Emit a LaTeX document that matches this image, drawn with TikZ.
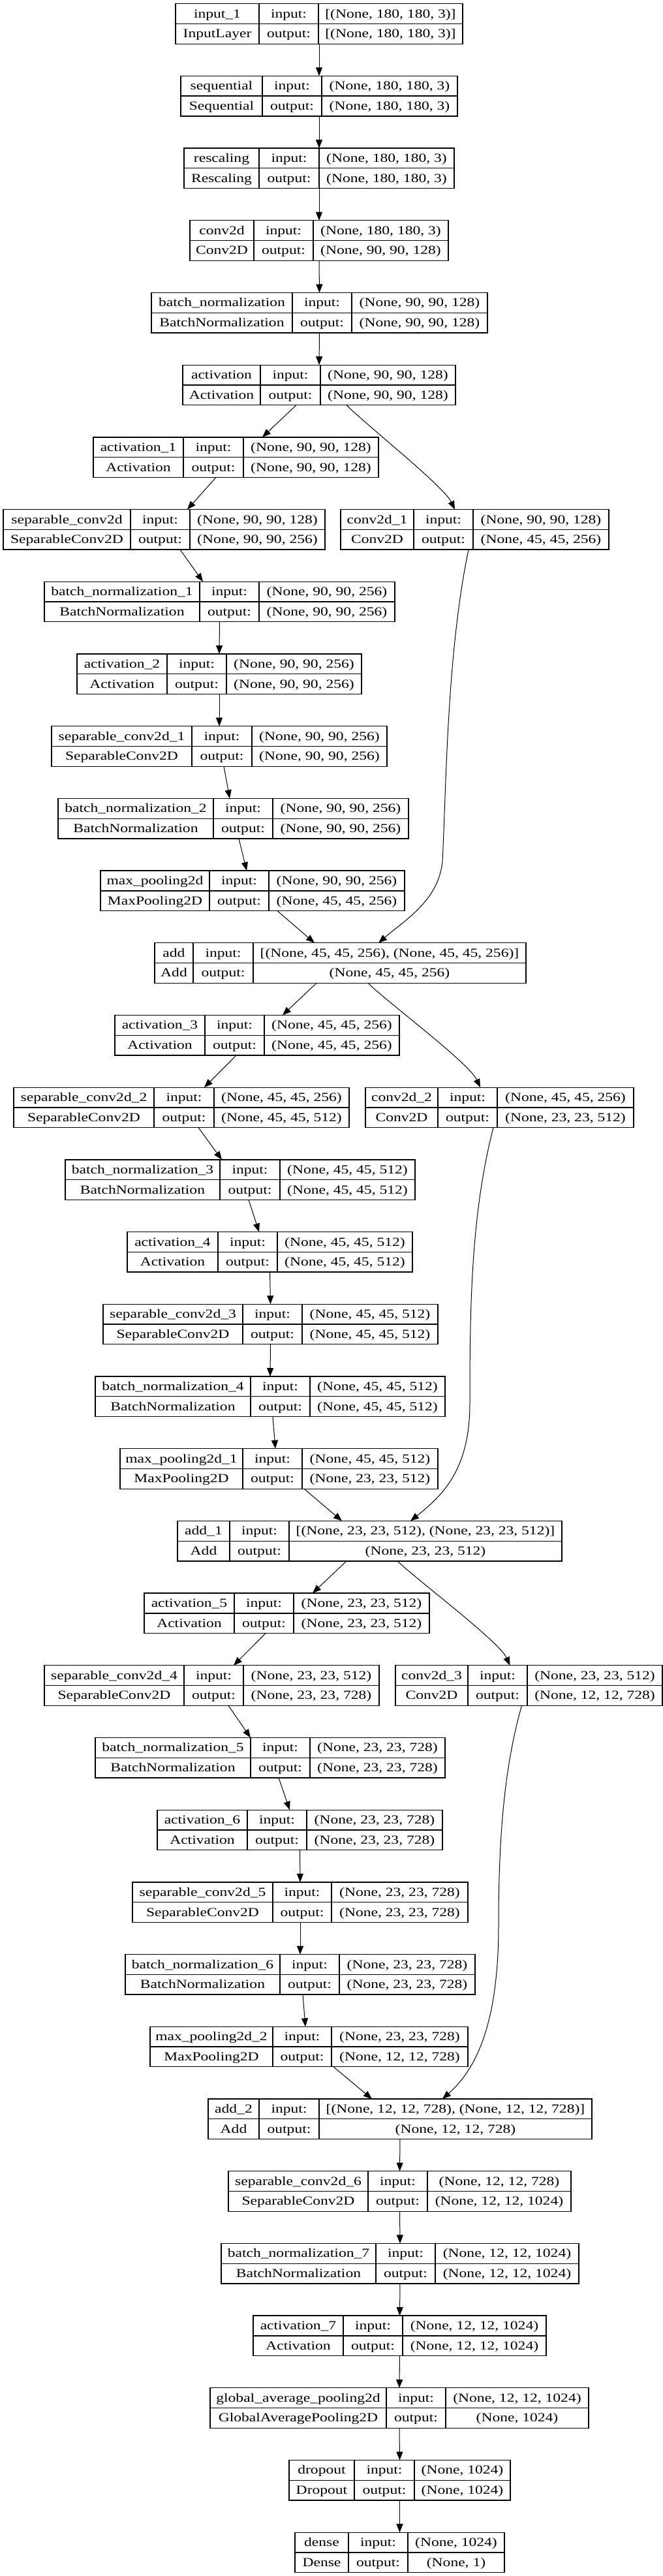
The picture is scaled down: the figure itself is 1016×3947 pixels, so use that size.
\documentclass[tikz,border=0pt]{standalone}
\usepackage{fontspec}
\setmainfont{Liberation Serif}[FakeStretch=1.24]
\usepackage{tikz}
\usetikzlibrary{arrows.meta,calc}

\tikzset{
  layer/.style={draw, line width=1.3pt, inner sep=0pt, outer sep=0pt, minimum height=61.5pt},
  rule/.style={line width=1.3pt},
  cell/.style={font=\fontsize{19}{19}\selectfont, inner sep=0pt, text height=15pt, text depth=3pt},
  link/.style={line width=1pt, -{Triangle[length=13pt,width=10pt]}}
}

% box of one layer: name, top, left, split 1, split 2, right
\newcommand{\layerbox}[6]{%
  \node[layer, minimum width={(#6-#3)*1pt}] (#1) at ({(#3+#6)/2},{#2+30.75}) {};
  \draw[rule] ({#4},{#2}) -- ({#4},{#2+61.5});
  \draw[rule] ({#5},{#2}) -- ({#5},{#2+61.5});
  \draw[rule] (#1.west) -- (#1.east);
  \node[cell] (#1-inlbl) at ({(#4+#5)/2},{#2+15.4}) {input:};
  \node[cell] (#1-outlbl) at ({(#4+#5)/2},{#2+46.1}) {output:};
  \coordinate (#1-l1) at ({(#3+#4)/2},{#2+15.4});
  \coordinate (#1-l2) at ({(#3+#4)/2},{#2+46.1});
  \coordinate (#1-r1) at ({(#5+#6)/2},{#2+15.4});
  \coordinate (#1-r2) at ({(#5+#6)/2},{#2+46.1});
}
% texts of one layer: name, label, class, input shape, output shape
\newcommand{\layertext}[5]{%
  \node[cell] (#1-name) at (#1-l1) {#2};
  \node[cell] (#1-class) at (#1-l2) {#3};
  \node[cell] (#1-in) at (#1-r1) {#4};
  \node[cell] (#1-out) at (#1-r2) {#5};
}

\begin{document}
\begin{tikzpicture}[x=1pt,y=-1pt]
  \useasboundingbox (0,0) rectangle (1016,3947);
  \fill[white] (0,0) rectangle (1016,3947);

  % stem
  \layerbox{in1}{5.7}{269}{397}{488}{709}
  \layertext{in1}{input\_1}{InputLayer}{[(None, 180, 180, 3)]}{[(None, 180, 180, 3)]}
  \layerbox{seq}{116.4}{277}{402}{493}{701}
  \layertext{seq}{sequential}{Sequential}{(None, 180, 180, 3)}{(None, 180, 180, 3)}
  \layerbox{resc}{227.1}{282}{397}{489}{696}
  \layertext{resc}{rescaling}{Rescaling}{(None, 180, 180, 3)}{(None, 180, 180, 3)}
  \layerbox{conv0}{337.8}{291}{389}{480}{687}
  \layertext{conv0}{conv2d}{Conv2D}{(None, 180, 180, 3)}{(None, 90, 90, 128)}
  \layerbox{bn0}{448.5}{232}{448}{539}{747}
  \layertext{bn0}{batch\_normalization}{BatchNormalization}{(None, 90, 90, 128)}{(None, 90, 90, 128)}
  \layerbox{act0}{559.2}{280}{399}{491}{698}
  \layertext{act0}{activation}{Activation}{(None, 90, 90, 128)}{(None, 90, 90, 128)}

  % block 1
  \layerbox{act1}{669.9}{143}{281}{373}{580}
  \layertext{act1}{activation\_1}{Activation}{(None, 90, 90, 128)}{(None, 90, 90, 128)}
  \layerbox{sep0}{780.6}{5}{200}{291}{498}
  \layertext{sep0}{separable\_conv2d}{SeparableConv2D}{(None, 90, 90, 128)}{(None, 90, 90, 256)}
  \layerbox{conv1}{780.6}{522}{634}{725}{933}
  \layertext{conv1}{conv2d\_1}{Conv2D}{(None, 90, 90, 128)}{(None, 45, 45, 256)}
  \layerbox{bn1}{891.3}{68}{306}{397}{605}
  \layertext{bn1}{batch\_normalization\_1}{BatchNormalization}{(None, 90, 90, 256)}{(None, 90, 90, 256)}
  \layerbox{act2}{1002}{118}{256}{347}{554}
  \layertext{act2}{activation\_2}{Activation}{(None, 90, 90, 256)}{(None, 90, 90, 256)}
  \layerbox{sep1}{1112.7}{79}{294}{386}{593}
  \layertext{sep1}{separable\_conv2d\_1}{SeparableConv2D}{(None, 90, 90, 256)}{(None, 90, 90, 256)}
  \layerbox{bn2}{1223.4}{89}{327}{418}{626}
  \layertext{bn2}{batch\_normalization\_2}{BatchNormalization}{(None, 90, 90, 256)}{(None, 90, 90, 256)}
  \layerbox{pool0}{1334.1}{154}{321}{412}{620}
  \layertext{pool0}{max\_pooling2d}{MaxPooling2D}{(None, 90, 90, 256)}{(None, 45, 45, 256)}
  \layerbox{add0}{1444.8}{237}{296}{388}{806}
  \layertext{add0}{add}{Add}{[(None, 45, 45, 256), (None, 45, 45, 256)]}{(None, 45, 45, 256)}

  % block 2
  \layerbox{act3}{1555.5}{176}{314}{405}{612}
  \layertext{act3}{activation\_3}{Activation}{(None, 45, 45, 256)}{(None, 45, 45, 256)}
  \layerbox{sep2}{1666.2}{21}{236}{328}{535}
  \layertext{sep2}{separable\_conv2d\_2}{SeparableConv2D}{(None, 45, 45, 256)}{(None, 45, 45, 512)}
  \layerbox{conv2}{1666.2}{560}{671}{762}{971}
  \layertext{conv2}{conv2d\_2}{Conv2D}{(None, 45, 45, 256)}{(None, 23, 23, 512)}
  \layerbox{bn3}{1776.9}{100}{337}{429}{636}
  \layertext{bn3}{batch\_normalization\_3}{BatchNormalization}{(None, 45, 45, 512)}{(None, 45, 45, 512)}
  \layerbox{act4}{1887.6}{195}{334}{425}{632}
  \layertext{act4}{activation\_4}{Activation}{(None, 45, 45, 512)}{(None, 45, 45, 512)}
  \layerbox{sep3}{1998.3}{158}{372}{463}{671}
  \layertext{sep3}{separable\_conv2d\_3}{SeparableConv2D}{(None, 45, 45, 512)}{(None, 45, 45, 512)}
  \layerbox{bn4}{2109}{146}{384}{475}{682}
  \layertext{bn4}{batch\_normalization\_4}{BatchNormalization}{(None, 45, 45, 512)}{(None, 45, 45, 512)}
  \layerbox{pool1}{2219.7}{184}{372}{463}{671}
  \layertext{pool1}{max\_pooling2d\_1}{MaxPooling2D}{(None, 45, 45, 512)}{(None, 23, 23, 512)}
  \layerbox{add1}{2330.4}{272}{352}{443}{861}
  \layertext{add1}{add\_1}{Add}{[(None, 23, 23, 512), (None, 23, 23, 512)]}{(None, 23, 23, 512)}

  % block 3
  \layerbox{act5}{2441.1}{221}{359}{450}{658}
  \layertext{act5}{activation\_5}{Activation}{(None, 23, 23, 512)}{(None, 23, 23, 512)}
  \layerbox{sep4}{2551.8}{68}{282}{373}{581}
  \layertext{sep4}{separable\_conv2d\_4}{SeparableConv2D}{(None, 23, 23, 512)}{(None, 23, 23, 728)}
  \layerbox{conv3}{2551.8}{606}{717}{808}{1015}
  \layertext{conv3}{conv2d\_3}{Conv2D}{(None, 23, 23, 512)}{(None, 12, 12, 728)}
  \layerbox{bn5}{2662.5}{146}{384}{475}{682}
  \layertext{bn5}{batch\_normalization\_5}{BatchNormalization}{(None, 23, 23, 728)}{(None, 23, 23, 728)}
  \layerbox{act6}{2773.2}{241}{379}{470}{678}
  \layertext{act6}{activation\_6}{Activation}{(None, 23, 23, 728)}{(None, 23, 23, 728)}
  \layerbox{sep5}{2883.9}{203}{418}{508}{717}
  \layertext{sep5}{separable\_conv2d\_5}{SeparableConv2D}{(None, 23, 23, 728)}{(None, 23, 23, 728)}
  \layerbox{bn6}{2994.6}{192}{429}{520}{728}
  \layertext{bn6}{batch\_normalization\_6}{BatchNormalization}{(None, 23, 23, 728)}{(None, 23, 23, 728)}
  \layerbox{pool2}{3105.3}{230}{418}{508}{717}
  \layertext{pool2}{max\_pooling2d\_2}{MaxPooling2D}{(None, 23, 23, 728)}{(None, 12, 12, 728)}
  \layerbox{add2}{3216}{319}{397}{489}{907}
  \layertext{add2}{add\_2}{Add}{[(None, 12, 12, 728), (None, 12, 12, 728)]}{(None, 12, 12, 728)}

  % head
  \layerbox{sep6}{3326.7}{350}{564}{655}{875}
  \layertext{sep6}{separable\_conv2d\_6}{SeparableConv2D}{(None, 12, 12, 728)}{(None, 12, 12, 1024)}
  \layerbox{bn7}{3437.4}{339}{576}{667}{887}
  \layertext{bn7}{batch\_normalization\_7}{BatchNormalization}{(None, 12, 12, 1024)}{(None, 12, 12, 1024)}
  \layerbox{act7}{3548.1}{388}{526}{617}{837}
  \layertext{act7}{activation\_7}{Activation}{(None, 12, 12, 1024)}{(None, 12, 12, 1024)}
  \layerbox{gap}{3658.8}{322}{592}{683}{902}
  \layertext{gap}{global\_average\_pooling2d}{GlobalAveragePooling2D}{(None, 12, 12, 1024)}{(None, 1024)}
  \layerbox{drop}{3769.5}{443}{543}{635}{782}
  \layertext{drop}{dropout}{Dropout}{(None, 1024)}{(None, 1024)}
  \layerbox{dense}{3880.2}{452}{534}{625}{773}
  \layertext{dense}{dense}{Dense}{(None, 1024)}{(None, 1)}

  % straight links
  \draw[link] (in1.south) -- (seq.north);
  \draw[link] (seq.south) -- (resc.north);
  \draw[link] (resc.south) -- (conv0.north);
  \draw[link] (conv0.south) -- (bn0.north);
  \draw[link] (bn0.south) -- (act0.north);
  \draw[link] ([xshift=-35pt]act0.south) -- ([xshift=40.5pt]act1.north);
  \draw[link] ([xshift=-30.5pt]act1.south) -- ([xshift=35.5pt]sep0.north);
  \draw[link] ([xshift=24.5pt]sep0.south) -- ([xshift=-25.5pt]bn1.north);
  \draw[link] (bn1.south) -- (act2.north);
  \draw[link] (act2.south) -- (sep1.north);
  \draw[link] ([xshift=7pt]sep1.south) -- ([xshift=-5.5pt]bn2.north);
  \draw[link] ([xshift=8.5pt]bn2.south) -- ([xshift=-9pt]pool0.north);
  \draw[link] ([xshift=38pt]pool0.south) -- ([xshift=-39.5pt]add0.north);
  \draw[link] ([xshift=-36.5pt]add0.south) -- ([xshift=39pt]act3.north);
  \draw[link] ([xshift=-32pt]act3.south) -- ([xshift=35pt]sep2.north);
  \draw[link] ([xshift=26pt]sep2.south) -- ([xshift=-28pt]bn3.north);
  \draw[link] ([xshift=13pt]bn3.south) -- ([xshift=-16.5pt]act4.north);
  \draw[link] (act4.south) -- (sep3.north);
  \draw[link] (sep3.south) -- (bn4.north);
  \draw[link] ([xshift=4pt]bn4.south) -- ([xshift=-5.5pt]pool1.north);
  \draw[link] ([xshift=38.5pt]pool1.south) -- ([xshift=-42.5pt]add1.north);
  \draw[link] ([xshift=-35.5pt]add1.south) -- ([xshift=39.5pt]act5.north);
  \draw[link] ([xshift=-32.5pt]act5.south) -- ([xshift=33.5pt]sep4.north);
  \draw[link] ([xshift=25.5pt]sep4.south) -- ([xshift=-30pt]bn5.north);
  \draw[link] ([xshift=13pt]bn5.south) -- ([xshift=-15.5pt]act6.north);
  \draw[link] (act6.south) -- (sep5.north);
  \draw[link] (sep5.south) -- (bn6.north);
  \draw[link] ([xshift=4pt]bn6.south) -- ([xshift=-5.5pt]pool2.north);
  \draw[link] ([xshift=37.5pt]pool2.south) -- ([xshift=-43pt]add2.north);
  \draw[link] (add2.south) -- (sep6.north);
  \draw[link] (sep6.south) -- (bn7.north);
  \draw[link] (bn7.south) -- (act7.north);
  \draw[link] (act7.south) -- (gap.north);
  \draw[link] (gap.south) -- (drop.north);
  \draw[link] (drop.south) -- (dense.north);

  % shortcut links
  \draw[link] ([xshift=42pt]act0.south) .. controls (560,650) and (680,745) .. ([xshift=-30.5pt]conv1.north);
  \draw[link] ([xshift=-9.5pt]conv1.south) .. controls (685,1000) and (684,1200) .. (678,1320)
    .. controls (672,1380) and (620,1410) .. ([xshift=58.5pt]add0.north);
  \draw[link] ([xshift=42.5pt]add0.south) .. controls (593,1535) and (719,1629) .. ([xshift=-29.5pt]conv2.north);
  \draw[link] ([xshift=-9.5pt]conv2.south) .. controls (722,1860) and (720,2000) .. (720,2150)
    .. controls (720,2250) and (680,2290) .. ([xshift=62.5pt]add1.north);
  \draw[link] ([xshift=42.5pt]add1.south) .. controls (638,2420) and (765,2515) .. ([xshift=-29pt]conv3.north);
  \draw[link] ([xshift=-11pt]conv3.south) .. controls (775,2700) and (764,2800) .. (764,2950)
    .. controls (764,3100) and (730,3170) .. ([xshift=65pt]add2.north);
\end{tikzpicture}
\end{document}
